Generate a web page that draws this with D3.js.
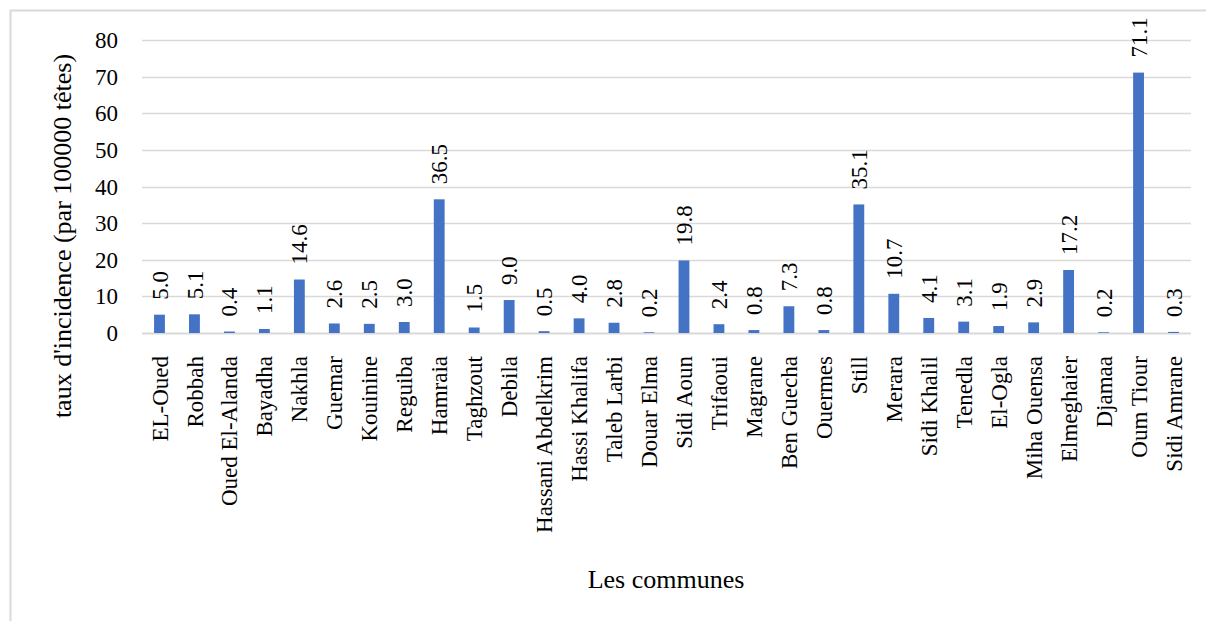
<!DOCTYPE html>
<html>
<head>
<meta charset="utf-8">
<script src="https://cdn.jsdelivr.net/npm/d3@7"></script>
<style>
  body { margin: 0; background: #fff; }
  svg { display: block; font-family: "Liberation Serif", "Times New Roman", serif; }
</style>
</head>
<body>
<div id="chart"></div>
<script>
const communes = ['EL-Oued', 'Robbah', 'Oued El-Alanda', 'Bayadha', 'Nakhla', 'Guemar', 'Kouinine',
  'Reguiba', 'Hamraia', 'Taghzout', 'Debila', 'Hassani Abdelkrim', 'Hassi Khalifa', 'Taleb Larbi',
  'Douar Elma', 'Sidi Aoun', 'Trifaoui', 'Magrane', 'Ben Guecha', 'Ouermes', 'Still', 'Merara',
  'Sidi Khalil', 'Tenedla', 'El-Ogla', 'Miha Ouensa', 'Elmeghaier', 'Djamaa', 'Oum Tiour', 'Sidi Amrane'];
const incidence = [5.0, 5.1, 0.4, 1.1, 14.6, 2.6, 2.5, 3.0, 36.5, 1.5, 9.0, 0.5, 4.0, 2.8,
  0.2, 19.8, 2.4, 0.8, 7.3, 0.8, 35.1, 10.7, 4.1, 3.1, 1.9, 2.9, 17.2, 0.2, 71.1, 0.3];
const yTicks = [0, 10, 20, 30, 40, 50, 60, 70, 80];

const width = 1206;
const height = 621;
const margin = { top: 40, right: 15, bottom: 288, left: 142 };
const data = communes.map((c, i) => ({ name: c, value: incidence[i] }));

const svg = d3.select('#chart').append('svg')
  .attr('width', width)
  .attr('height', height);

// frame of the chart area
svg.append('rect')
  .attr('x', 10.5)
  .attr('y', 10.5)
  .attr('width', width + 10)
  .attr('height', height + 10)
  .attr('fill', 'none')
  .attr('stroke', '#d9d9d9')
  .attr('stroke-width', 2);

const x = d3.scaleBand()
  .domain(communes)
  .range([margin.left, width - margin.right])
  .paddingInner(0.69)
  .paddingOuter(0.345);

const y = d3.scaleLinear()
  .domain([0, 80])
  .range([height - margin.bottom, margin.top]);

// gridlines
svg.append('g')
  .selectAll('line')
  .data(yTicks)
  .join('line')
  .attr('x1', margin.left)
  .attr('x2', width - margin.right)
  .attr('y1', (d) => Math.round(y(d)) + 0.5)
  .attr('y2', (d) => Math.round(y(d)) + 0.5)
  .attr('stroke', '#d9d9d9')
  .attr('stroke-width', (d) => (d === 0 ? 2 : 1.5));

// y tick labels
svg.append('g')
  .selectAll('text')
  .data(yTicks)
  .join('text')
  .attr('x', 118)
  .attr('y', (d) => y(d))
  .attr('dy', '0.35em')
  .attr('text-anchor', 'end')
  .attr('font-size', 23)
  .attr('fill', '#000')
  .text((d) => d);

// bars
svg.append('g')
  .selectAll('rect')
  .data(data)
  .join('rect')
  .attr('x', (d) => x(d.name))
  .attr('width', x.bandwidth())
  .attr('y', (d) => y(d.value))
  .attr('height', (d) => y(0) - y(d.value))
  .attr('fill', '#4472c4');

// value labels
svg.append('g')
  .selectAll('text')
  .data(data)
  .join('text')
  .attr('transform', (d) => `translate(${x(d.name) + x.bandwidth() / 2},${y(d.value) - 15}) rotate(-90)`)
  .attr('dy', '0.35em')
  .attr('text-anchor', 'start')
  .attr('font-size', 23)
  .attr('fill', '#000')
  .text((d) => d.value.toFixed(1));

// category labels
svg.append('g')
  .selectAll('text')
  .data(data)
  .join('text')
  .attr('transform', (d) => `translate(${x(d.name) + x.bandwidth() / 2},356) rotate(-90)`)
  .attr('dy', '0.35em')
  .attr('text-anchor', 'end')
  .attr('font-size', 23)
  .attr('fill', '#000')
  .text((d) => d.name);

// axis titles
svg.append('text')
  .attr('transform', 'translate(62,236) rotate(-90)')
  .attr('dy', '0.35em')
  .attr('text-anchor', 'middle')
  .attr('font-size', 26)
  .attr('fill', '#000')
  .text("taux d'incidence (par 100000 têtes)");

svg.append('text')
  .attr('x', 666)
  .attr('y', 588)
  .attr('text-anchor', 'middle')
  .attr('font-size', 26)
  .attr('fill', '#000')
  .text('Les communes');
</script>
</body>
</html>
